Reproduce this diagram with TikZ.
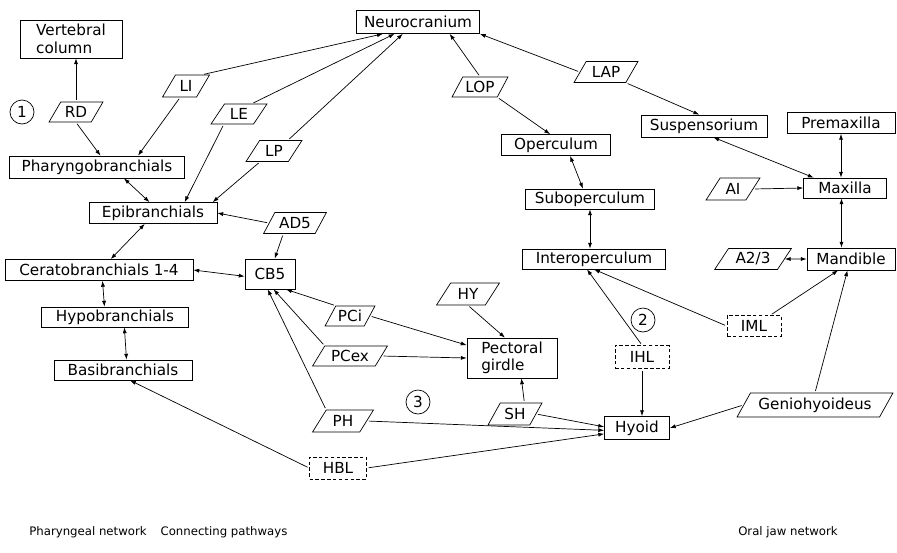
\documentclass[tikz,border=0pt]{standalone}
\usepackage{fontspec}
\setmainfont{DejaVu Sans}
\usetikzlibrary{shapes.geometric,arrows.meta}
\begin{document}
\begin{tikzpicture}[x=0.03cm,y=-0.03cm,line width=0.6pt,font=\fontsize{13}{15}\selectfont,
wd/.style={minimum width=#1*0.03cm},ht/.style={minimum height=#1*0.03cm},
bone/.style={draw,rectangle,inner sep=1pt,ht=21},
lig/.style={bone,dash pattern=on 3pt off 2pt},
musc/.style={draw,trapezium,trapezium left angle=55,trapezium right angle=125,trapezium stretches=true,inner sep=1pt,ht=21},
num/.style={draw,circle,minimum size=24*0.03cm,inner sep=0pt},
ar/.style={-{Latex[length=5pt,width=3.5pt]},shorten <=1.5pt},
dar/.style={{Latex[length=5pt,width=3.5pt]}-{Latex[length=5pt,width=3.5pt]}}]
\useasboundingbox(0,0)rectangle(897,552);
%bones
\node[bone,wd=102,ht=38,align=left](vert)at(71,39){Vertebral\\column};
\node[bone,wd=123,ht=23](neuro)at(418,22){Neurocranium};
\node[bone,wd=175,ht=22](pharyngo)at(97,167){Pharyngobranchials};
\node[bone,wd=128](epi)at(153,213){Epibranchials};
\node[bone,wd=188](cerato)at(99,270){Ceratobranchials 1-4};
\node[bone,wd=50,ht=30](cbfive)at(270,274){CB5};
\node[bone,wd=147,ht=20](hypo)at(115,317){Hypobranchials};
\node[bone,wd=138,ht=20](basi)at(123,370){Basibranchials};
\node[bone,wd=109](operc)at(556,145){Operculum};
\node[bone,wd=129,ht=20](subop)at(590,199){Suboperculum};
\node[bone,wd=143,ht=20](interop)at(594,259){Interoperculum};
\node[bone,wd=126,ht=22](susp)at(704,126){Suspensorium};
\node[bone,wd=108](premax)at(841,123){Premaxilla};
\node[bone,wd=83,ht=20](maxilla)at(845,188){Maxilla};
\node[bone,wd=88,ht=22](mand)at(851,259){Mandible};
\node[bone,wd=90,ht=40,align=left](pect)at(512,358){Pectoral\\girdle};
\node[bone,wd=65,ht=23](hyoid)at(637,428){Hyoid};
%ligaments
\node[lig,wd=54](iml)at(754,326){IML};
\node[lig,wd=54,ht=23](ihl)at(642,357){IHL};
\node[lig,wd=57,ht=22](hbl)at(338,468){HBL};
%muscles
\node[musc,wd=54,ht=20](rd)at(76,112){RD};
\node[musc,wd=47,ht=22](li)at(186,86){LI};
\node[musc,wd=56,ht=20](le)at(239,114){LE};
\node[musc,wd=56](lp)at(274,151){LP};
\node[musc,wd=63](adfive)at(295,223){AD5};
\node[musc,wd=56,ht=20](lop)at(480,87){LOP};
\node[musc,wd=64](lap)at(606,72){LAP};
\node[musc,wd=54,ht=22](ai)at(733,189){AI};
\node[musc,wd=77](atwo)at(753,259){A2/3};
\node[musc,wd=63,ht=22](hy)at(468,294){HY};
\node[musc,wd=50,ht=20](pci)at(350,316){PCi};
\node[musc,wd=75,ht=20](pcex)at(350,356){PCex};
\node[musc,wd=61,ht=22](ph)at(343,421){PH};
\node[musc,wd=54,ht=22](sh)at(515,414){SH};
\node[musc,wd=156,ht=24](genio)at(815,405){Geniohyoideus};
%numbers
\node[num](c1)at(22,112){1};
\node[num](c2)at(643,320){2};
\node[num](c3)at(418,402){3};
%pharyngeal network
\draw[ar](rd.north)--(rd.north|-vert.south);
\draw[ar](rd.south)--([xshift=3pt]pharyngo.north);
\draw[ar]([xshift=14pt]li.north)--([xshift=-30pt]neuro.south);
\draw[ar]([xshift=11pt]le.north)--([xshift=-20pt]neuro.south);
\draw[ar]([xshift=12pt]lp.north)--([xshift=-13pt]neuro.south);
\draw[ar]([xshift=-5pt]li.south)--([xshift=35pt]pharyngo.north);
\draw[ar]([xshift=-13pt]le.south)--([xshift=27pt]epi.north);
\draw[ar]([xshift=-12pt]lp.south)--([xshift=-4pt]epi.north east);
\draw[dar]([xshift=23pt]pharyngo.south)--([xshift=-3pt]epi.north);
\draw[dar]([xshift=-7pt]epi.south)--([xshift=10pt]cerato.north);
\draw[dar]([xshift=3pt]cerato.south)--([xshift=-9pt]hypo.north);
\draw[dar]([xshift=8pt]hypo.south)--([xshift=3pt]basi.north);
%connecting pathways
\draw[ar](adfive.west)--(epi.east);
\draw[ar]([xshift=-10pt]adfive.south)--([xshift=4pt]cbfive.north);
\draw[dar](cerato.east)--([yshift=-2pt]cbfive.west);
\draw[ar](pci.top left corner)--([xshift=-8pt]cbfive.south east);
\draw[ar](pcex.top left corner)--([xshift=3pt]cbfive.south);
\draw[ar](ph.top left corner)--([xshift=-2pt]cbfive.south);
\draw[ar](pci.east)--([yshift=11pt]pect.west);
\draw[ar](pcex.east)--(pect.west);
\draw[ar](hy.south)--([xshift=-6pt]pect.north);
\draw[ar]([xshift=8pt]sh.north)--([xshift=8pt]pect.south);
\draw[ar](sh.east)--([yshift=1pt]hyoid.west);
\draw[ar](ph.east)--([yshift=-2pt]hyoid.west);
\draw[ar](hbl.east)--([yshift=-5pt]hyoid.west);
\draw[ar](hbl.west)--([xshift=6pt]basi.south);
%oral jaw network
\draw[ar](lop.north)--([xshift=27pt]neuro.south);
\draw[ar](lop.bottom right corner)--([xshift=-5pt]operc.north);
\draw[ar](lap.west)--(neuro.south east);
\draw[ar](lap.bottom right corner)--([xshift=-4pt]susp.north);
\draw[dar]([xshift=12pt]operc.south)--([xshift=-6pt]subop.north);
\draw[dar](subop.south)--(subop.south|-interop.north);
\draw[ar](ihl.north)--([xshift=-6pt]interop.south);
\draw[ar](ihl.south)--(ihl.south|-hyoid.north);
\draw[ar](iml.west)--(interop.south);
\draw[ar]([xshift=14pt]iml.north)--([xshift=-11pt]mand.south);
\draw[ar](genio.west)--(hyoid.east);
\draw[ar](genio.north)--([xshift=-3pt]mand.south);
\draw[dar]([xshift=8pt]susp.south)--([xshift=9pt]maxilla.north west);
\draw[dar](premax.south)--(premax.south|-maxilla.north);
\draw[ar](ai.east)--(maxilla.west);
\draw[dar]([xshift=-3pt]maxilla.south)--([xshift=-3pt]maxilla.south|-mand.north);
\draw[dar](atwo.east)--(mand.west);
%captions
\node[font=\fontsize{10}{12}\selectfont](labphar)at(88,532){Pharyngeal network};
\node[font=\fontsize{10}{12}\selectfont](labconn)at(224,532){Connecting pathways};
\node[font=\fontsize{10}{12}\selectfont](laboral)at(788,532){Oral jaw network};
\end{tikzpicture}
\end{document}
